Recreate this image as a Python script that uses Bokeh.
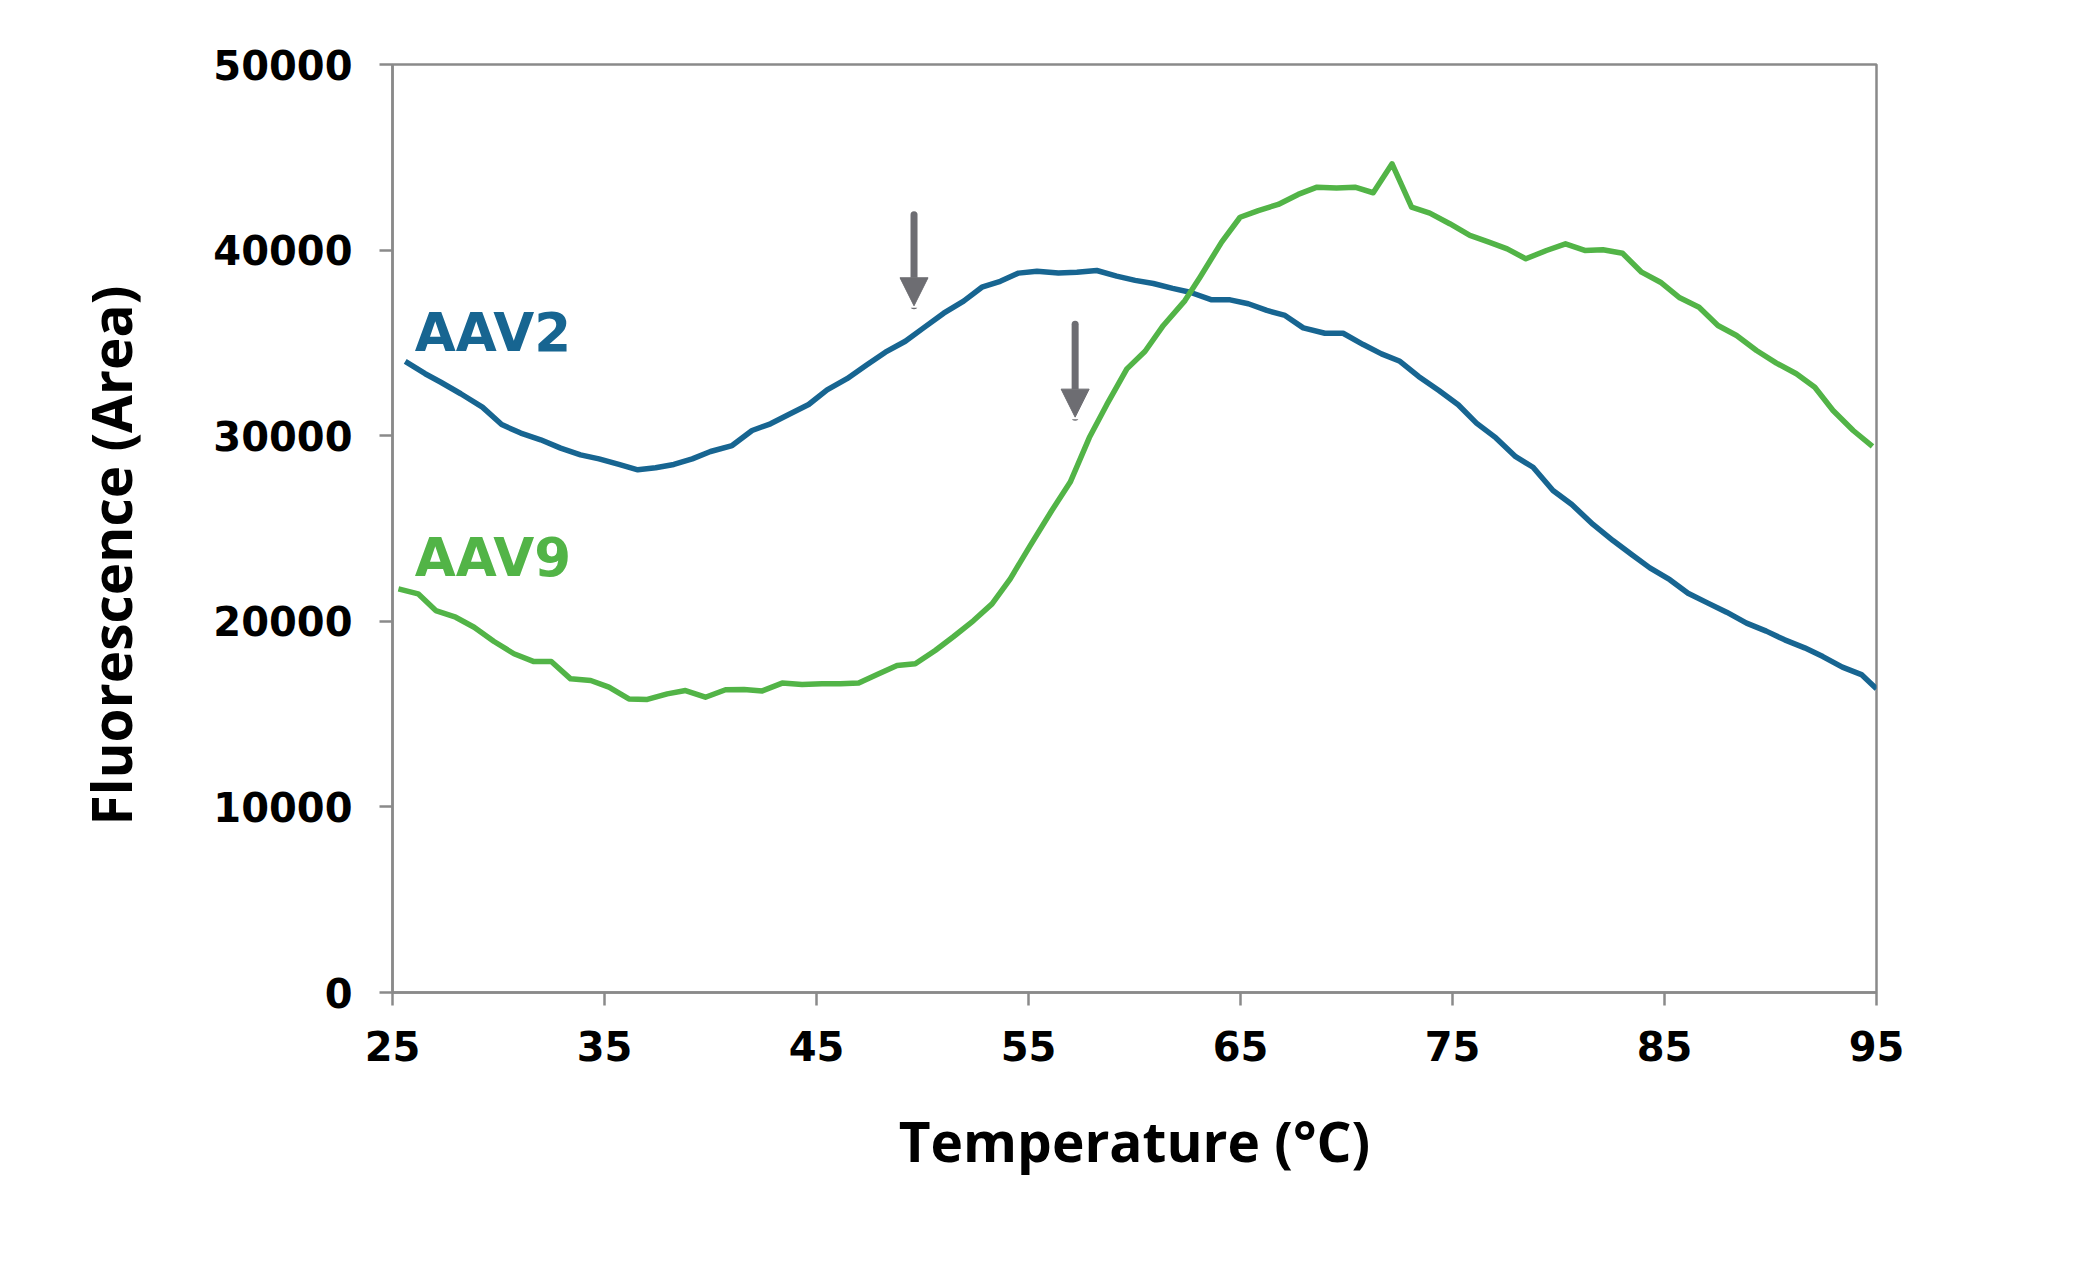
from bokeh.plotting import figure
from bokeh.models import (Range1d, FixedTicker, BasicTickFormatter, Label, Arrow,
                          NormalHead, ColumnDataSource, Title)
from bokeh.embed import file_html
from bokeh.resources import INLINE

# ---------------- data ----------------
aav2_temp = [25.60, 26.54, 27.28, 28.22, 29.24, 30.15, 31.05, 31.99, 32.93, 33.87,
             34.74, 35.68, 36.57, 37.41, 38.27, 39.14, 40.00, 41.02, 41.96, 42.83,
             43.69, 44.63, 45.50, 46.44, 47.38, 48.25, 49.19, 50.05, 51.00, 51.94,
             52.80, 53.67, 54.53, 55.40, 56.41, 57.28, 58.22, 59.16, 60.03, 60.89,
             61.80, 62.62, 63.64, 64.51, 65.37, 66.24, 67.10, 67.96, 68.98, 69.84,
             70.79, 71.65, 72.52, 73.40, 74.36, 75.27, 76.13, 77.05, 77.98, 78.80,
             79.74, 80.63, 81.63, 82.57, 83.45, 84.31, 85.25, 86.11, 87.05, 87.93,
             88.87, 89.80, 90.67, 91.61, 92.47, 93.39, 94.29, 95.00]
aav2_fluor = [34000, 33340, 32880, 32260, 31540, 30600, 30140, 29780, 29330, 28970,
              28750, 28450, 28160, 28270, 28450, 28750, 29150, 29470, 30280, 30640,
              31140, 31680, 32470, 33070, 33820, 34500, 35090, 35810, 36600, 37250,
              38000, 38320, 38760, 38860, 38760, 38810, 38900, 38600, 38370, 38200,
              37940, 37730, 37320, 37320, 37110, 36750, 36480, 35810, 35520, 35520,
              34910, 34410, 34010, 33190, 32435, 31670, 30680, 29880, 28870, 28300,
              27050, 26290, 25220, 24350, 23600, 22880, 22240, 21510, 20980, 20490,
              19900, 19470, 19000, 18570, 18100, 17530, 17130, 16360]

aav9_temp = [25.28, 26.21, 27.04, 27.98, 28.85, 29.79, 30.73, 31.67, 32.49, 33.40,
             34.35, 35.21, 36.15, 37.02, 37.96, 38.82, 39.76, 40.71, 41.58, 42.44,
             43.38, 44.32, 45.26, 46.13, 46.99, 47.86, 48.80, 49.66, 50.60, 51.47,
             52.41, 53.28, 54.14, 55.08, 56.10, 56.97, 57.87, 58.69, 59.64, 60.50,
             61.36, 62.38, 63.09, 64.11, 64.98, 65.84, 66.78, 67.72, 68.61, 69.53,
             70.40, 71.26, 72.15, 73.07, 73.93, 74.87, 75.82, 76.72, 77.58, 78.46,
             79.43, 80.33, 81.24, 82.10, 83.02, 83.92, 84.81, 85.72, 86.63, 87.52,
             88.40, 89.34, 90.28, 91.22, 92.09, 92.95, 93.90, 94.81]
aav9_fluor = [21750, 21480, 20580, 20220, 19680, 18910, 18250, 17830, 17830, 16900,
              16810, 16450, 15820, 15790, 16090, 16270, 15910, 16310, 16330, 16250,
              16670, 16600, 16630, 16630, 16670, 17130, 17620, 17710, 18430, 19180,
              20040, 20940, 22290, 24080, 25970, 27500, 29900, 31670, 33600, 34550,
              35940, 37280, 38540, 40430, 41770, 42130, 42460, 43000, 43390, 43340,
              43390, 43090, 44650, 42310, 41990, 41420, 40790, 40430, 40070, 39530,
              39980, 40340, 39980, 40020, 39830, 38810, 38270, 37430, 36920, 35940,
              35400, 34590, 33910, 33340, 32610, 31360, 30280, 29420]

x_ticks = [25, 35, 45, 55, 65, 75, 85, 95]
y_ticks = [0, 10000, 20000, 30000, 40000, 50000]

arrow_temp = [49.6, 57.2]
arrow_from = [41900, 36000]
arrow_to = [37000, 31000]

series_names = ["AAV2", "AAV9"]

# ---------------- styling ----------------
BLUE = "#176591"
GREEN = "#52B447"
ARROW_GRAY = "#6D6D72"
AXIS_GRAY = "#8A8A8A"

TICK_FONT = "DejaVu Sans"
TITLE_FONT = "Open Sans"

p = figure(width=2070, height=1245,
           x_range=Range1d(25, 95), y_range=Range1d(0, 50000),
           output_backend="svg", toolbar_location=None,
           min_border_left=392, min_border_right=194,
           min_border_top=64, min_border_bottom=253)

p.grid.visible = False
p.background_fill_color = "white"
p.border_fill_color = "white"
p.outline_line_color = AXIS_GRAY
p.outline_line_width = 2.5

for ax in (p.xaxis[0], p.yaxis[0]):
    ax.axis_line_color = AXIS_GRAY
    ax.axis_line_width = 2.5
    ax.major_tick_line_color = AXIS_GRAY
    ax.major_tick_line_width = 2.5
    ax.major_tick_out = 13
    ax.major_tick_in = 0
    ax.minor_tick_out = 0
    ax.minor_tick_in = 0
    ax.major_label_text_font = TICK_FONT
    ax.major_label_text_font_style = "bold"
    ax.major_label_text_font_size = "40px"
    ax.major_label_text_color = "#000000"
    ax.axis_label_text_font = TITLE_FONT
    ax.axis_label_text_font_style = "bold"
    ax.axis_label_text_font_size = "55px"
    ax.axis_label_text_color = "#000000"

xa = p.xaxis[0]
xa.ticker = FixedTicker(ticks=x_ticks)
xa.major_label_standoff = 25
xa.axis_label = "Temperature (°C)"
xa.axis_label_standoff = 39

ya = p.yaxis[0]
ya.ticker = FixedTicker(ticks=y_ticks)
ya.formatter = BasicTickFormatter(use_scientific=False)
ya.major_label_standoff = 27

# y-axis title as a side title, so it can sit slightly below the frame centre
p.add_layout(Title(text="Fluorescence (Area)", align="left", offset=167,
                   vertical_align="bottom", standoff=126,
                   text_font=TITLE_FONT, text_font_style="bold",
                   text_font_size="55px", text_color="#000000"), "left")

# curves
p.line(aav2_temp, aav2_fluor, line_color=BLUE, line_width=5.5, line_join="round")
p.line(aav9_temp, aav9_fluor, line_color=GREEN, line_width=5.5, line_join="round")

# series labels
p.add_layout(Label(x=26.05, y=35560, text=series_names[0], text_font=TICK_FONT,
                   text_font_style="bold", text_font_size="53px", text_color=BLUE,
                   text_align="left", text_baseline="alphabetic"))
p.add_layout(Label(x=26.05, y=23420, text=series_names[1], text_font=TICK_FONT,
                   text_font_style="bold", text_font_size="53px", text_color=GREEN,
                   text_align="left", text_baseline="alphabetic"))

# arrows
arrow_src = ColumnDataSource(dict(x=arrow_temp, y0=arrow_from, y1=arrow_to))
p.add_layout(Arrow(x_start="x", y_start="y0", x_end="x", y_end="y1", source=arrow_src,
                   line_color=ARROW_GRAY, line_width=7, line_cap="round",
                   end=NormalHead(size=28, fill_color=ARROW_GRAY,
                                  line_color=ARROW_GRAY, line_width=1)))

open("out.html", "w").write(file_html(p, INLINE))
